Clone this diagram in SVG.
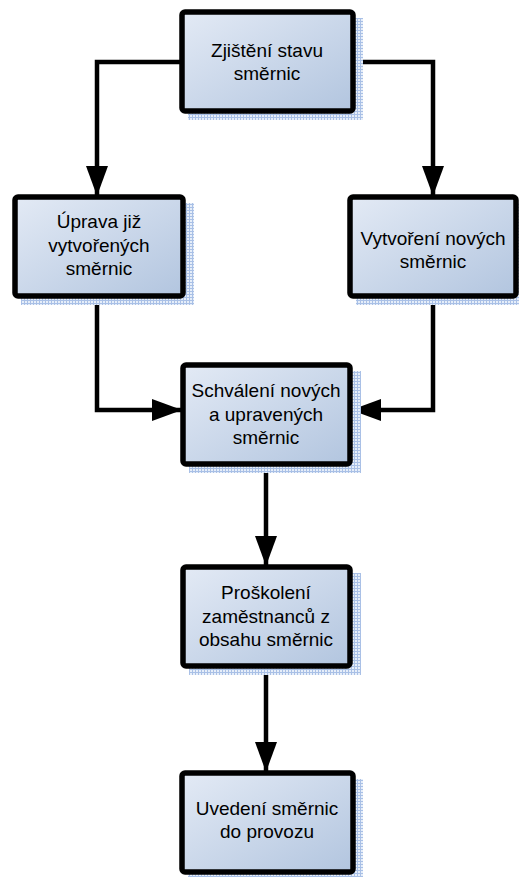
<svg xmlns="http://www.w3.org/2000/svg" width="519" height="877" viewBox="0 0 519 877">
<defs>
<linearGradient id="g" x1="0" y1="0" x2="1" y2="1">
<stop offset="0" stop-color="#e3eaf5"/>
<stop offset="1" stop-color="#b2c5df"/>
</linearGradient>
<pattern id="h" width="3" height="3" patternUnits="userSpaceOnUse">
<rect width="3" height="3" fill="#e6eef9"/>
<path d="M0 0.5H3M0.5 0V3" stroke="#a9c0e6" stroke-width="1"/>
</pattern>
<marker id="a" viewBox="0 0 30 22" refX="29" refY="11" markerWidth="30" markerHeight="22" markerUnits="userSpaceOnUse" orient="auto">
<path d="M0 0L30 11L0 22Z" fill="#000"/>
</marker>
<style>
.box{fill:url(#g);stroke:#000;stroke-width:5.5}
.sh{fill:url(#h)}
.c{fill:none;stroke:#000;stroke-width:4.5;marker-end:url(#a)}
text{font-family:"Liberation Sans",Arial,sans-serif;font-size:19px;fill:#000;text-anchor:middle}
</style>
</defs>
<g id="connectors">
<path class="c" d="M180 62H97V195"/>
<path class="c" d="M355 62H433V195"/>
<path class="c" d="M97 297V410H181"/>
<path class="c" d="M433 297V410H352"/>
<path class="c" d="M266 465V565"/>
<path class="c" d="M266 667V771"/>
</g>
<g id="n1">
<rect class="sh" x="188" y="18" width="175" height="102"/>
<rect class="box" x="182" y="12" width="171" height="99" rx="3"/>
<text x="267" y="57">Zjištění stavu</text>
<text x="267" y="80">směrnic</text>
</g>
<g id="n2">
<rect class="sh" x="21" y="203" width="173" height="102"/>
<rect class="box" x="15" y="197" width="168" height="99" rx="3"/>
<text x="99" y="228">Úprava již</text>
<text x="99" y="252">vytvořených</text>
<text x="99" y="275">směrnic</text>
</g>
<g id="n3">
<rect class="sh" x="356" y="203" width="163" height="102"/>
<rect class="box" x="350" y="197" width="166" height="99" rx="3"/>
<text x="433" y="245">Vytvoření nových</text>
<text x="433" y="268">směrnic</text>
</g>
<g id="n4">
<rect class="sh" x="189" y="371" width="172" height="102"/>
<rect class="box" x="183" y="365" width="167" height="99" rx="3"/>
<text x="266" y="397">Schválení nových</text>
<text x="266" y="421">a upravených</text>
<text x="266" y="444">směrnic</text>
</g>
<g id="n5">
<rect class="sh" x="189" y="573" width="172" height="102"/>
<rect class="box" x="183" y="567" width="167" height="99" rx="3"/>
<text x="266" y="599">Proškolení</text>
<text x="266" y="623">zaměstnanců z</text>
<text x="266" y="646">obsahu směrnic</text>
</g>
<g id="n6">
<rect class="sh" x="188" y="779" width="175" height="98"/>
<rect class="box" x="182" y="773" width="171" height="99" rx="3"/>
<text x="267" y="815">Uvedení směrnic</text>
<text x="267" y="838">do provozu</text>
</g>
</svg>
